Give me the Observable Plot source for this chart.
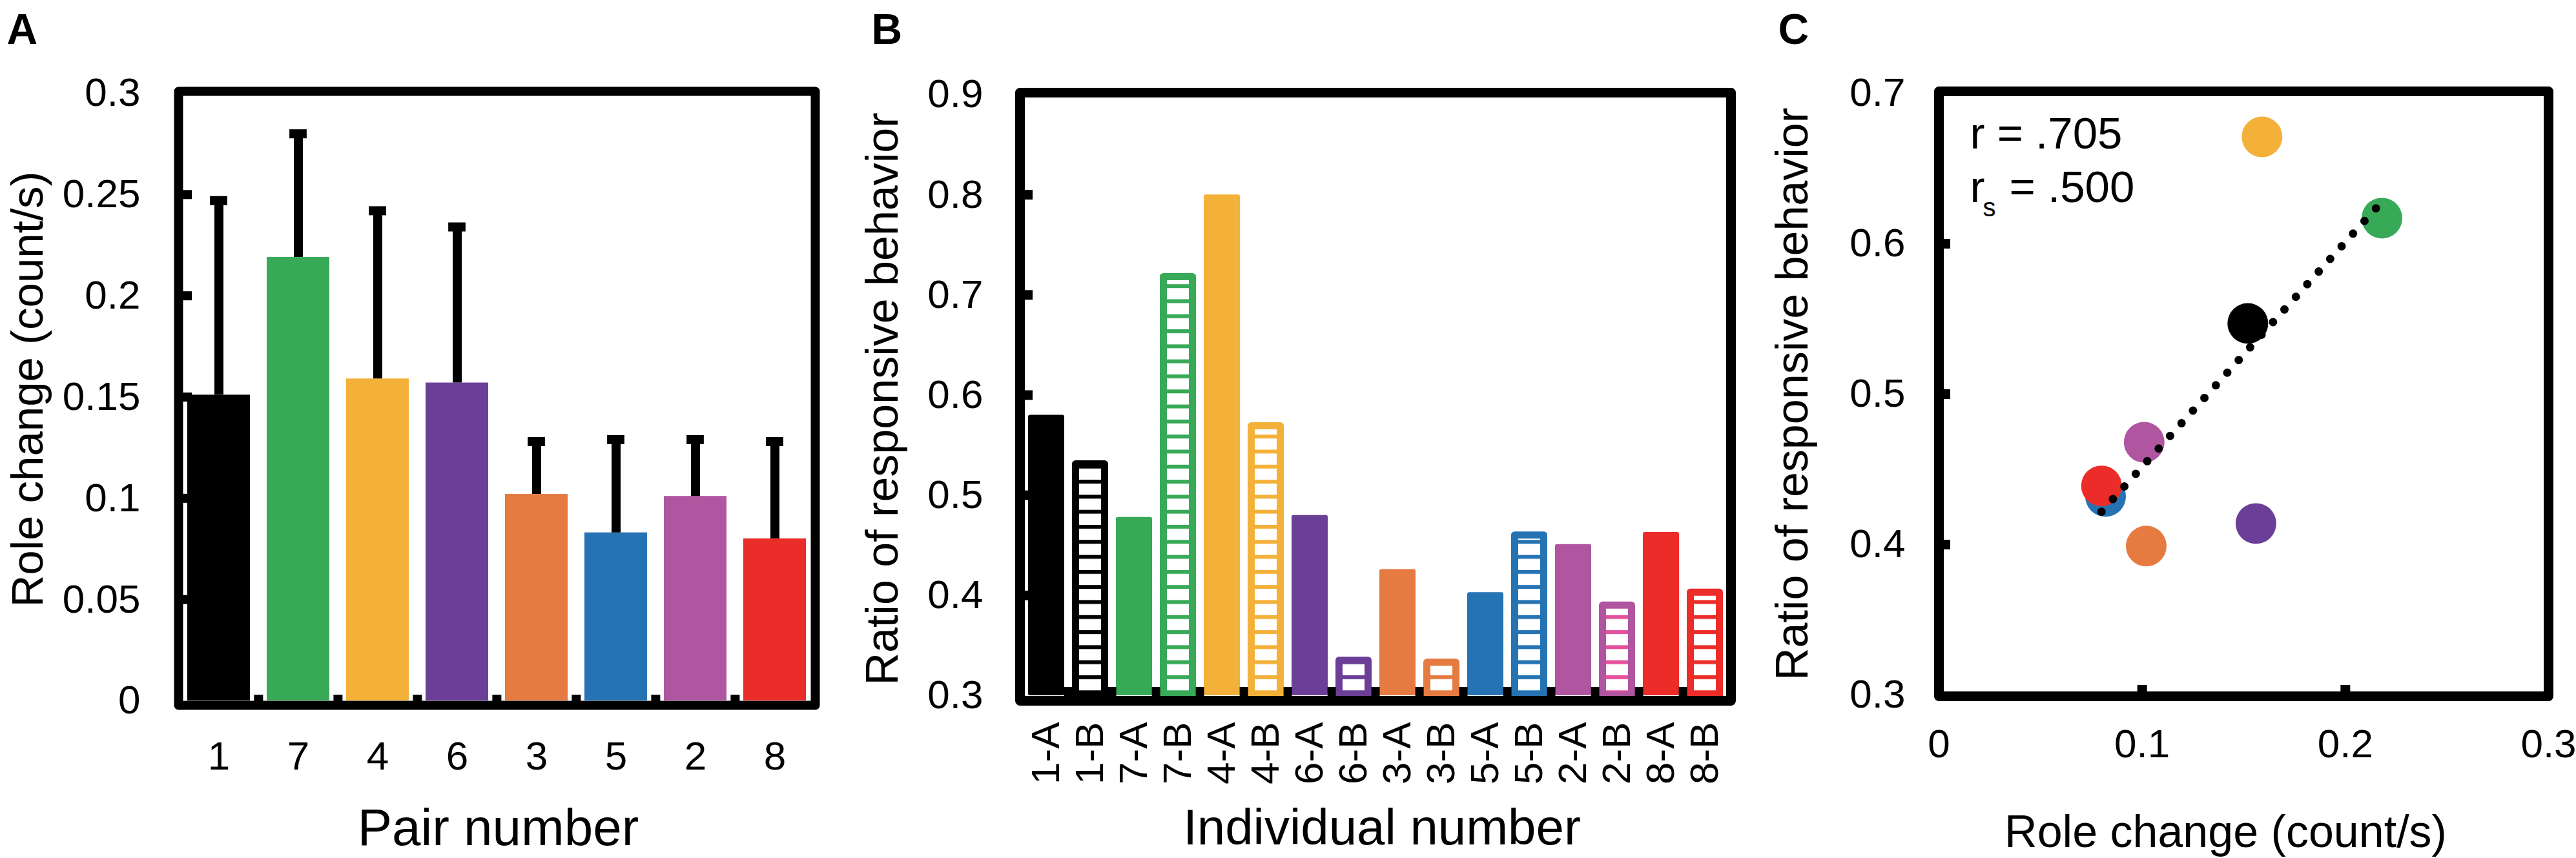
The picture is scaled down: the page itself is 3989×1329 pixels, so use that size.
<!DOCTYPE html>
<html>
<head>
<meta charset="utf-8">
<script src="https://cdn.jsdelivr.net/npm/d3@7"></script>
<script src="https://cdn.jsdelivr.net/npm/@observablehq/plot@0.6"></script>
<style>
  body { margin: 0; background: #fff; }
  #wrap { position: relative; width: 3989px; height: 1329px; overflow: hidden; background: #fff; }
</style>
</head>
<body>
<div id="wrap"></div>
<script>
// ---------- data ----------
const pairs = ["1", "7", "4", "6", "3", "5", "2", "8"];
const pairColors = ["#000000", "#38a957", "#f3b13a", "#6b3f97", "#e67b42", "#2673b4", "#b056a1", "#ec2c28"];
const stripeColors = ["#000000", "#38a957", "#f3b13a", "#6b3f97", "#e67b42", "#2673b4", "#e4509c", "#ec2c28"];
const roleChange = [0.151, 0.219, 0.159, 0.157, 0.102, 0.083, 0.101, 0.080];
const roleChangeUpper = [0.247, 0.280, 0.242, 0.234, 0.128, 0.129, 0.129, 0.128];

const individuals = ["1-A", "1-B", "7-A", "7-B", "4-A", "4-B", "6-A", "6-B", "3-A", "3-B", "5-A", "5-B", "2-A", "2-B", "8-A", "8-B"];
const responsive = [0.580, 0.531, 0.478, 0.718, 0.800, 0.569, 0.480, 0.335, 0.426, 0.333, 0.403, 0.460, 0.451, 0.390, 0.463, 0.403];

const scatterX = [0.152, 0.218, 0.159, 0.156, 0.102, 0.082, 0.101, 0.080];
const scatterY = [0.547, 0.617, 0.671, 0.414, 0.399, 0.432, 0.468, 0.439];

const ticksA = [0, 0.05, 0.1, 0.15, 0.2, 0.25, 0.3];
const ticksB = [0.3, 0.4, 0.5, 0.6, 0.7, 0.8, 0.9];
const ticksCx = [0, 0.1, 0.2, 0.3];
const ticksCy = [0.3, 0.4, 0.5, 0.6, 0.7];
const statLines = ["r = .705"];

// ---------- helpers ----------
const FONT = "'Liberation Sans', Arial, Helvetica, sans-serif";
const wrap = document.getElementById("wrap");
function place(svg, left) {
  svg.style.position = "absolute";
  svg.style.left = left + "px";
  svg.style.top = "0px";
  svg.style.maxWidth = "none";
  wrap.appendChild(svg);
}
const baseStyle = {fontFamily: FONT, color: "black", background: "transparent", overflow: "visible"};

// ---------- Panel A ----------
const A = {left: 0, width: 1320, height: 1329, ml: 276, mr: 58, mt: 144, mb: 244};
const fwA = A.width - A.ml - A.mr;
const fhA = A.height - A.mt - A.mb;
const stepA = fwA / pairs.length;
const dataA = pairs.map((p, i) => ({pair: p, mean: roleChange[i], upper: roleChangeUpper[i], color: pairColors[i]}));

const svgA = Plot.plot({
  width: A.width, height: A.height,
  marginLeft: A.ml, marginRight: A.mr, marginTop: A.mt, marginBottom: A.mb,
  x: {domain: pairs, padding: 0},
  y: {domain: [0, 0.3]},
  color: {type: "identity"},
  style: baseStyle,
  marks: [
    Plot.barY(dataA, {x: "pair", y: "mean", fill: "color", insetLeft: 13, insetRight: 13}),
    Plot.ruleX(dataA, {x: "pair", y1: "mean", y2: "upper", stroke: "black", strokeWidth: 14}),
    Plot.tickY(dataA, {x: "pair", y: "upper", stroke: "black", strokeWidth: 14, insetLeft: (stepA - 27) / 2, insetRight: (stepA - 27) / 2}),
    Plot.tickY(ticksA.slice(1, -1), {y: d => d, stroke: "black", strokeWidth: 14, insetRight: fwA - 21}),
    Plot.tickX(pairs.slice(1), {x: d => d, dx: -stepA / 2, stroke: "black", strokeWidth: 14, insetTop: fhA - 9, insetBottom: -7}),
    Plot.frame({stroke: "black", strokeWidth: 14, insetTop: -3, insetBottom: -7, strokeLinejoin: "round"}),
    Plot.axisY({ticks: ticksA, tickSize: 0, tickPadding: 59, fontSize: 62, tickFormat: d => String(d), label: null}),
    Plot.axisX({tickSize: 0, tickPadding: 62, fontSize: 62, label: null}),
    Plot.text(["Pair number"], {frameAnchor: "bottom", textAnchor: "middle", lineAnchor: "top", dx: 2, dy: 167, fontSize: 80}),
    Plot.text(["Role change (count/s)"], {frameAnchor: "left", textAnchor: "middle", rotate: -90, lineAnchor: "top", dx: 16 - A.ml, dy: -12, fontSize: 69}),
    Plot.text(["A"], {frameAnchor: "top-left", textAnchor: "start", lineAnchor: "top", dx: 10 - A.ml, dy: 21 - A.mt, fontSize: 66, fontWeight: "bold"})
  ]
});
place(svgA, A.left);

// ---------- Panel B ----------
const B = {left: 1330, width: 1370, height: 1329, ml: 249, mr: 20, mt: 146, mb: 252};
const fwB = B.width - B.ml - B.mr;
const fhB = B.height - B.mt - B.mb;
const stepB = fwB / individuals.length;
const dataB = individuals.map((id, i) => ({
  id, value: responsive[i],
  color: pairColors[Math.floor(i / 2)],
  pattern: `url(#hatch-${Math.floor(i / 2)})`,
  hatched: i % 2 === 1
}));

const svgB = Plot.plot({
  width: B.width, height: B.height,
  marginLeft: B.ml, marginRight: B.mr, marginTop: B.mt, marginBottom: B.mb,
  x: {domain: individuals, padding: 0},
  y: {domain: [0.3, 0.9]},
  color: {type: "identity"},
  style: baseStyle,
  marks: [
    Plot.barY(dataB.filter(d => !d.hatched), {x: "id", y1: 0.3, y2: "value", fill: "color", insetLeft: 6, insetRight: 6, rx: 3}),
    Plot.barY(dataB.filter(d => d.hatched), {x: "id", y1: 0.3, y2: "value", fill: "pattern", stroke: "color", strokeWidth: 11, strokeLinejoin: "round", insetLeft: 11.5, insetRight: 11.5}),
    Plot.tickY(ticksB.slice(1, -1), {y: d => d, stroke: "black", strokeWidth: 15, insetRight: fwB - 20}),
    Plot.tickX(individuals.slice(1), {x: d => d, dx: -stepB / 2, stroke: "black", strokeWidth: 13, insetTop: fhB - 13, insetBottom: -8}),
    Plot.frame({stroke: "black", strokeWidth: 15, insetTop: -3, insetBottom: -8, strokeLinejoin: "round"}),
    Plot.axisY({ticks: ticksB, tickSize: 0, tickPadding: 57, fontSize: 62, tickFormat: d => String(d), label: null}),
    Plot.axisX({tickSize: 0, tickPadding: 41, tickRotate: -90, fontSize: 62, label: null}),
    Plot.text(["Individual number"], {frameAnchor: "bottom", textAnchor: "middle", lineAnchor: "top", dx: 10, dy: 175, fontSize: 78}),
    Plot.text(["Ratio of responsive behavior"], {frameAnchor: "left", textAnchor: "middle", rotate: -90, lineAnchor: "top", dx: 10 - B.ml, dy: 6, fontSize: 70}),
    Plot.text(["B"], {frameAnchor: "top-left", textAnchor: "start", lineAnchor: "top", dx: 19 - B.ml, dy: 21 - B.mt, fontSize: 66, fontWeight: "bold"})
  ]
});
// hatch patterns (horizontal stripes, aligned in user space)
const defs = d3.select(svgB).insert("defs", ":first-child");
pairColors.forEach((c, k) => {
  const p = defs.append("pattern")
    .attr("id", `hatch-${k}`)
    .attr("patternUnits", "userSpaceOnUse")
    .attr("x", 0).attr("y", -2.5)
    .attr("width", 20).attr("height", 23.3);
  p.append("rect").attr("width", 20).attr("height", 23.3).attr("fill", "white");
  p.append("rect").attr("width", 20).attr("height", 6).attr("fill", stripeColors[k]);
});
place(svgB, B.left);

// ---------- Panel C ----------
const C = {left: 2700, width: 1289, height: 1329, ml: 302, mr: 43, mt: 144, mb: 253};
const fwC = C.width - C.ml - C.mr;
const fhC = C.height - C.mt - C.mb;
const dataC = pairs.map((p, i) => ({pair: p, x: scatterX[i], y: scatterY[i], color: pairColors[i]}));

const svgC = Plot.plot({
  width: C.width, height: C.height,
  marginLeft: C.ml, marginRight: C.mr, marginTop: C.mt, marginBottom: C.mb,
  x: {domain: [0, 0.3]},
  y: {domain: [0.3, 0.7]},
  color: {type: "identity"},
  style: baseStyle,
  marks: [
    Plot.dot(dataC, {x: "x", y: "y", r: 31.5, fill: "color"}),
    Plot.linearRegressionY(dataC, {x: "x", y: "y", stroke: "black", strokeWidth: 13, strokeDasharray: "0 26.4", strokeLinecap: "round", ci: 0}),
    Plot.tickY(ticksCy.slice(1, -1), {y: d => d, stroke: "black", strokeWidth: 15, insetRight: fwC - 18}),
    Plot.tickX(ticksCx.slice(1, -1), {x: d => d, stroke: "black", strokeWidth: 15, insetTop: fhC - 15, insetBottom: -2}),
    Plot.frame({stroke: "black", strokeWidth: 15, insetTop: -3, insetBottom: -2, strokeLinejoin: "round"}),
    Plot.axisY({ticks: ticksCy, tickSize: 0, tickPadding: 52, fontSize: 62, tickFormat: d => String(d), label: null}),
    Plot.axisX({ticks: ticksCx, tickSize: 0, tickPadding: 52, fontSize: 62, tickFormat: d => String(d), label: null}),
    Plot.text(statLines, {frameAnchor: "top-left", textAnchor: "start", lineAnchor: "top", dx: 48, dy: 36, fontSize: 69}),
    Plot.text(["r"], {frameAnchor: "top-left", textAnchor: "start", lineAnchor: "top", dx: 48, dy: 119, fontSize: 69}),
    Plot.text(["s"], {frameAnchor: "top-left", textAnchor: "start", lineAnchor: "top", dx: 68, dy: 162, fontSize: 40}),
    Plot.text(["= .500"], {frameAnchor: "top-left", textAnchor: "start", lineAnchor: "top", dx: 109, dy: 119, fontSize: 69}),
    Plot.text(["Role change (count/s)"], {frameAnchor: "bottom", textAnchor: "middle", lineAnchor: "top", dx: -28, dy: 186, fontSize: 70}),
    Plot.text(["Ratio of responsive behavior"], {frameAnchor: "left", textAnchor: "middle", rotate: -90, lineAnchor: "top", dx: 49 - C.ml, dy: 0, fontSize: 70}),
    Plot.text(["C"], {frameAnchor: "top-left", textAnchor: "start", lineAnchor: "top", dx: 53 - C.ml, dy: 21 - C.mt, fontSize: 66, fontWeight: "bold"})
  ]
});
place(svgC, C.left);
</script>
</body>
</html>
